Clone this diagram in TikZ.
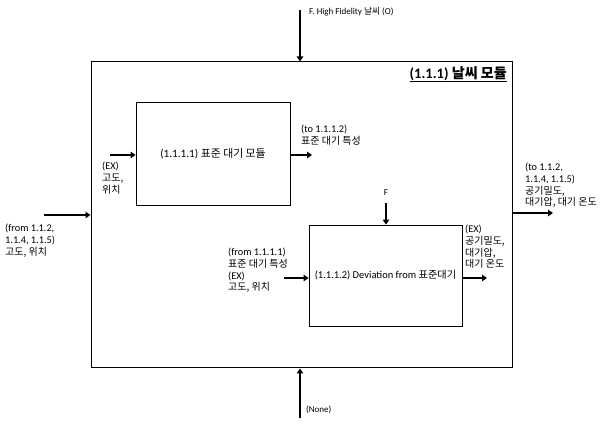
\documentclass[tikz,border=0pt]{standalone}
\usepackage{fontspec}
\setmainfont{Carlito}
\newfontfamily\kr{Noto Sans CJK KR}[Scale=0.97]
\usetikzlibrary{arrows.meta, positioning}

\begin{document}
\begin{tikzpicture}[
    x=1pt, y=-1pt,
    module/.style={draw, rectangle, line width=0.8pt, inner sep=0pt},
    outer/.style={draw, rectangle, line width=1pt, inner sep=0pt},
    label/.style={align=left, inner sep=0pt, font=\fontsize{10.3}{11.7}\selectfont},
    small/.style={inner sep=0pt, font=\fontsize{9}{10}\selectfont},
    title/.style={inner sep=0pt, font=\fontsize{14.5}{16}\selectfont\bfseries},
    arrow/.style={-{Triangle[length=5pt, width=6.5pt]}, line width=2.2pt}
]
\useasboundingbox (0,0) rectangle (608,427);

\node[outer, minimum width=421pt, minimum height=306pt] (mod) at (301.5,215) {};
\node[title, anchor=north east] (ttl) at (507,66) {\underline{(1.1.1) {\kr 날씨 모듈}}};

\node[module, minimum width=154pt, minimum height=103pt, font=\fontsize{11.2}{13}\selectfont] (std) at (213,153.5) {(1.1.1.1) {\kr 표준 대기 모듈}};
\node[module, minimum width=153pt, minimum height=101pt, font=\fontsize{10.5}{12}\selectfont] (dev) at (385.5,275.5) {(1.1.1.2) Deviation from {\kr 표준대기}};

% outer in/out
\coordinate (inL) at (44,215);
\coordinate (outR) at (553,213);
\coordinate (topF) at (300,10);
\coordinate (botN) at (300,418);
\draw[arrow] (inL) -- (mod.west);
\draw[arrow] (mod.east |- outR) -- (outR);
\draw[arrow] (topF) -- (topF |- mod.north);
\draw[arrow] (botN) -- (botN |- mod.south);

\node[label, anchor=north west] (inLtxt) at (5,224) {(from 1.1.2,\\1.1.4, 1.1.5)\\{\kr 고도, 위치}};
\node[label, anchor=north west] (outRtxt) at (525,163) {(to 1.1.2,\\1.1.4, 1.1.5)\\{\kr 공기밀도,}\\{\kr 대기압, 대기 온도}};
\node[small, anchor=west] (topFtxt) at (309,12) {F. High Fidelity {\kr 날씨} (O)};
\node[small, anchor=west] (botNtxt) at (306,410) {(None)};

% 1.1.1.1
\coordinate (stdIn) at (110,155);
\coordinate (stdOut) at (312,155);
\draw[arrow] (stdIn) -- (std.west |- stdIn);
\draw[arrow] (std.east |- stdOut) -- (stdOut);
\node[label, anchor=north west] (stdInTxt) at (102,162) {(EX)\\{\kr 고도,}\\{\kr 위치}};
\node[label, anchor=north west] (stdOutTxt) at (301,125) {(to 1.1.1.2)\\{\kr 표준 대기 특성}};

% 1.1.1.2
\coordinate (devIn) at (284,278);
\coordinate (devOut) at (487,278);
\coordinate (devF) at (386,203);
\draw[arrow] (devIn) -- (dev.west |- devIn);
\draw[arrow] (dev.east |- devOut) -- (devOut);
\draw[arrow] (devF) -- (devF |- dev.north);
\node[small, anchor=south] (devFtxt) at (386,196) {F};
\node[label, anchor=north west] (devInTxt) at (228,248) {(from 1.1.1.1)\\{\kr 표준 대기 특성}\\(EX)\\{\kr 고도, 위치}};
\node[label, anchor=north west] (devOutTxt) at (465,225) {(EX)\\{\kr 공기밀도,}\\{\kr 대기압,}\\{\kr 대기 온도}};
\end{tikzpicture}
\end{document}
